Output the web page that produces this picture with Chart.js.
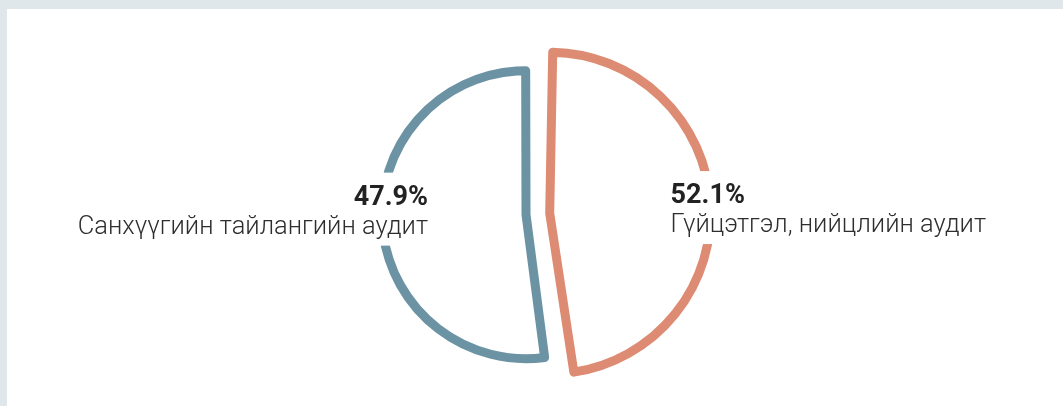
<!DOCTYPE html>
<html>
<head>
  <meta charset="UTF-8">
  <title>Аудитын төрөл</title>
  <script src="https://cdn.jsdelivr.net/npm/chart.js"></script>
  <style>
    html, body { margin: 0; padding: 0; background: #e0e7eb; }
    #box { position: absolute; left: 7px; top: 9px; width: 1056px; height: 397px; background: #fff; }
  </style>
</head>
<body>

<div id="box">
  <canvas id="myChart" width="1056" height="397"></canvas>
</div>

<script>
  const categories = ['Гүйцэтгэл, нийцлийн аудит', 'Санхүүгийн тайлангийн аудит'];
  const shares = [52.1, 47.9];
  const sliceColors = ['#dd8b73', '#6b93a3'];
  // in the reference the slice sizes are swapped against their labels
  const sliceSizes = [shares[1], shares[0]];

  // labels sit inside the arcs on a white box that cuts the outline
  const sliceLabels = {
    id: 'sliceLabels',
    afterDraw(chart) {
      const ctx = chart.ctx;
      const meta = chart.getDatasetMeta(0);
      meta.data.forEach(function (el, i) {
        const off = (el.options.offset || 0) / 4;
        const half = (el.startAngle + el.endAngle) / 2;
        const fix = 1 - Math.sin(Math.min(Math.PI, el.circumference));
        const cx = el.x + Math.cos(half) * off;
        const cy = el.y + Math.sin(half) * off;
        const r = el.outerRadius + off * fix;
        const right = Math.cos(half) >= 0;
        const x = right ? cx + r - 40 : cx - r + 46;
        const b1 = cy - 10, b2 = cy + 19;
        const pct = shares[i].toFixed(1) + '%';

        ctx.save();
        ctx.font = '700 27px Roboto';
        const w1 = ctx.measureText(pct).width;
        ctx.font = '300 25.5px Roboto';
        const w2 = ctx.measureText(categories[i]).width;
        const w = Math.max(w1, w2) + 12;
        ctx.fillStyle = '#fff';
        ctx.fillRect(right ? x - 6 : x - w + 6, b1 - 32, w, b2 - b1 + 44);

        ctx.textAlign = right ? 'left' : 'right';
        ctx.textBaseline = 'alphabetic';
        ctx.fillStyle = '#222';
        ctx.font = '700 27px Roboto';
        ctx.fillText(pct, x, b1);
        ctx.fillStyle = '#2e2e2e';
        ctx.font = '300 25.5px Roboto';
        ctx.fillText(categories[i], x, b2);
        ctx.restore();
      });
    }
  };

  const ctx = document.getElementById('myChart');
  var chart = new Chart(ctx, {
    type: 'pie',
    data: {
      labels: categories,
      datasets: [{
        data: sliceSizes,
        backgroundColor: 'rgba(255,255,255,0)',
        borderColor: sliceColors,
        borderWidth: 9,
        borderJoinStyle: 'round',
        offset: [87, 8]
      }]
    },
    options: {
      responsive: false,
      animation: false,
      events: [],
      radius: 142,
      layout: { padding: { top: 14, right: 14 } },
      plugins: {
        legend: { display: false },
        tooltip: { enabled: false }
      }
    },
    plugins: [sliceLabels]
  });
</script>

</body>
</html>
